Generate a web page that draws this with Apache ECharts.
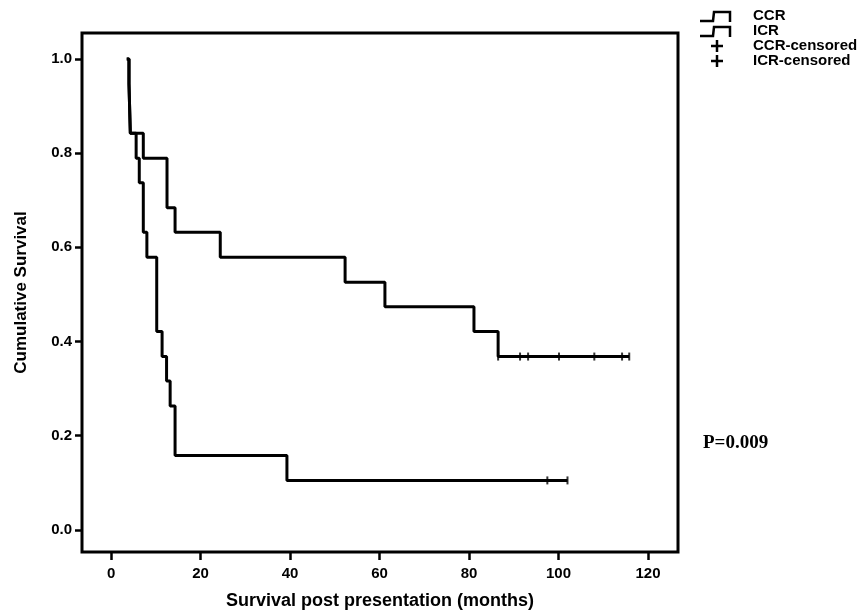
<!DOCTYPE html>
<html>
<head>
<meta charset="utf-8">
<script src="https://cdn.jsdelivr.net/npm/echarts@6/dist/echarts.min.js"></script>
<style>
  html, body { margin: 0; padding: 0; background: #fff; }
  #chart { width: 863px; height: 615px; }
</style>
</head>
<body>
<div id="chart"></div>
<script>
// Kaplan–Meier step data: event times (months) and cumulative survival after each event
const ccrTimes = [3.5, 4.0, 4.3, 7.2, 12.5, 14.3, 24.4, 52.3, 61.2, 81.1, 86.5, 115.8];
const ccrSurv  = [1.0, 0.947, 0.842, 0.789, 0.684, 0.632, 0.579, 0.526, 0.474, 0.421, 0.368, 0.368];
const icrTimes = [3.5, 4.0, 4.3, 5.6, 6.3, 7.2, 8.0, 10.2, 11.4, 12.4, 13.2, 14.3, 39.3, 102.0];
const icrSurv  = [1.0, 0.947, 0.842, 0.789, 0.737, 0.632, 0.579, 0.421, 0.368, 0.316, 0.263, 0.158, 0.105, 0.105];

// Censored observations
const ccrCensorTimes = [86.5, 91.4, 93.2, 100.1, 108.0, 114.2, 115.8];
const ccrCensorSurv  = [0.368, 0.368, 0.368, 0.368, 0.368, 0.368, 0.368];
const icrCensorTimes = [97.5, 102.0];
const icrCensorSurv  = [0.105, 0.105];

// Axis ticks
const xTicks = [0, 20, 40, 60, 80, 100, 120];
const yTicks = [0.0, 0.2, 0.4, 0.6, 0.8, 1.0];

const seriesNames = ['CCR', 'ICR', 'CCR-censored', 'ICR-censored'];
const pValueText = 'P=0.009';

const zip = (a, b) => a.map((v, i) => [v, b[i]]);

const chart = echarts.init(document.getElementById('chart'), null, { renderer: 'canvas' });

const labelFont = { color: '#000', fontWeight: 'bold', fontFamily: 'Liberation Sans, Arial, sans-serif', fontSize: 15 };

// Legend drawn as graphics: step icon / plus icon + label
function legendGraphics() {
  const g = [];
  const x0 = 700, rows = [16, 31, 46, 61];
  // step icons for the two curves
  [0, 1].forEach(i => {
    const y = rows[i];
    g.push({
      type: 'polyline',
      shape: { points: [[x0, y + 5], [x0 + 13, y + 5], [x0 + 14, y - 4], [x0 + 30, y - 4], [x0 + 30, y + 6]] },
      style: { stroke: '#000', lineWidth: 2.5, fill: null }
    });
  });
  // plus icons for censored marks
  [2, 3].forEach(i => {
    const y = rows[i], cx = x0 + 17;
    g.push({ type: 'line', shape: { x1: cx - 6, y1: y, x2: cx + 6, y2: y }, style: { stroke: '#000', lineWidth: 2.5 } });
    g.push({ type: 'line', shape: { x1: cx, y1: y - 6, x2: cx, y2: y + 6 }, style: { stroke: '#000', lineWidth: 2.5 } });
  });
  seriesNames.forEach((name, i) => {
    g.push({
      type: 'text', x: 753, y: rows[i],
      style: { text: name, fill: '#000', font: 'bold 15px "Liberation Sans", Arial, sans-serif', textVerticalAlign: 'middle' }
    });
  });
  g.push({
    type: 'text', x: 703, y: 443,
    style: { text: pValueText, fill: '#000', font: 'bold 19px "Liberation Serif", "Times New Roman", serif', textVerticalAlign: 'middle' }
  });
  return g;
}

const tickStyle = { color: '#000', width: 2.5 };

const option = {
  backgroundColor: '#fff',
  animation: false,
  grid: {
    left: 82, right: 185, top: 33, bottom: 63,
    show: true, borderColor: '#000', borderWidth: 3, backgroundColor: 'transparent'
  },
  xAxis: {
    type: 'value',
    min: -6.5, max: 126.7,
    name: 'Survival post presentation (months)',
    nameLocation: 'middle', nameGap: 40,
    nameTextStyle: { color: '#000', fontWeight: 'bold', fontFamily: 'Liberation Sans, Arial, sans-serif', fontSize: 18 },
    axisLine: { show: false, onZero: false },
    axisTick: { show: true, inside: false, length: 8, lineStyle: tickStyle, customValues: xTicks },
    axisLabel: Object.assign({ margin: 14, customValues: xTicks, formatter: v => String(v) }, labelFont),
    splitLine: { show: false }
  },
  yAxis: {
    type: 'value',
    min: -0.047, max: 1.055,
    name: 'Cumulative Survival',
    nameLocation: 'middle', nameGap: 52,
    nameTextStyle: { color: '#000', fontWeight: 'bold', fontFamily: 'Liberation Sans, Arial, sans-serif', fontSize: 17 },
    axisLine: { show: false, onZero: false },
    axisTick: { show: true, inside: false, length: 7, lineStyle: tickStyle, customValues: yTicks },
    axisLabel: Object.assign({ margin: 10, customValues: yTicks, formatter: v => v.toFixed(1) }, labelFont),
    splitLine: { show: false }
  },
  series: [
    {
      name: seriesNames[0], type: 'line', step: 'end', data: zip(ccrTimes, ccrSurv),
      showSymbol: false, lineStyle: { color: '#000', width: 3 }, z: 3
    },
    {
      name: seriesNames[1], type: 'line', step: 'end', data: zip(icrTimes, icrSurv),
      showSymbol: false, lineStyle: { color: '#000', width: 3 }, z: 3
    },
    {
      name: seriesNames[2], type: 'scatter', data: zip(ccrCensorTimes, ccrCensorSurv),
      symbol: 'rect', symbolSize: [2, 8], itemStyle: { color: '#000' }, z: 4
    },
    {
      name: seriesNames[3], type: 'scatter', data: zip(icrCensorTimes, icrCensorSurv),
      symbol: 'rect', symbolSize: [2, 8], itemStyle: { color: '#000' }, z: 4
    }
  ],
  graphic: legendGraphics()
};

chart.setOption(option);
</script>
</body>
</html>
